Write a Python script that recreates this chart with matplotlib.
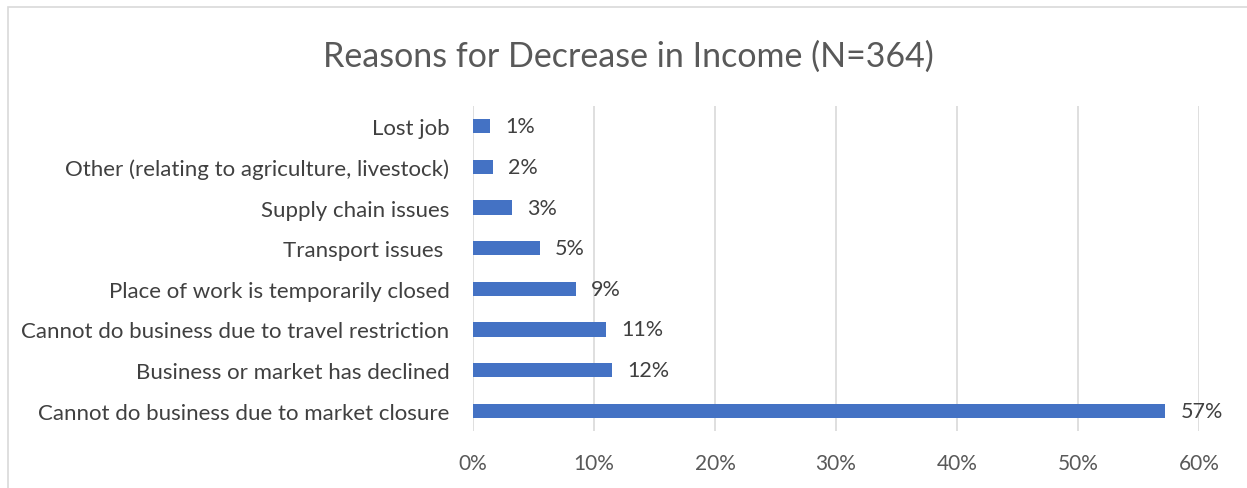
import matplotlib
matplotlib.use("Agg")
import matplotlib.pyplot as plt
from matplotlib.patches import Rectangle
from matplotlib.ticker import FuncFormatter

categories = [
    "Lost job",
    "Other (relating to agriculture, livestock)",
    "Supply chain issues",
    "Transport issues ",
    "Place of work is temporarily closed",
    "Cannot do business due to travel restriction",
    "Business or market has declined",
    "Cannot do business due to market closure",
]
values = [1.4, 1.65, 3.25, 5.5, 8.5, 11.0, 11.5, 57.2]
value_labels = ["1%", "2%", "3%", "5%", "9%", "11%", "12%", "57%"]
xticks = [0, 10, 20, 30, 40, 50, 60]
title = "Reasons for Decrease in Income (N=364)"

plt.rcParams['font.family'] = ['Lato', 'DejaVu Sans']

W, H = 1247, 489
fig = plt.figure(figsize=(W / 100, H / 100), dpi=100)
ax = fig.add_axes([473 / W, (H - 432) / H, (1199 - 473) / W, (432 - 107) / H])

y = list(range(len(categories)))
ax.barh(y, values, height=0.35, color="#4472C4", zorder=3)
for yi, v, lab in zip(y, values, value_labels):
    ax.annotate(lab, (v, yi), xytext=(11, 0), textcoords="offset points",
                va="center", ha="left", fontsize=15.5, color="#404040")

ax.set_ylim(len(categories) - 0.5, -0.5)
ax.set_xlim(0, 60)
ax.set_yticks(y)
ax.set_yticklabels(categories, fontsize=16, color="#404040")
ax.set_xticks(xticks)
ax.xaxis.set_major_formatter(FuncFormatter(lambda v, p: f"{int(v)}%"))
ax.tick_params(axis="x", labelsize=15, labelcolor="#595959", length=0, pad=16)
ax.tick_params(axis="y", length=0, pad=17)
ax.grid(axis="x", color="#D9D9D9", linewidth=1.2, zorder=0)
for s in ax.spines.values():
    s.set_visible(False)

fig.text(628 / W, 1 - 57 / H, title, ha="center", va="center",
         fontsize=24.5, color="#595959")

fig.patches.append(Rectangle((8 / W, -0.1), 1.2, 1 - 8 / H + 0.1,
                             transform=fig.transFigure, fill=False,
                             edgecolor="#D9D9D9", linewidth=1.2))

fig.savefig("out.png", dpi=100)
